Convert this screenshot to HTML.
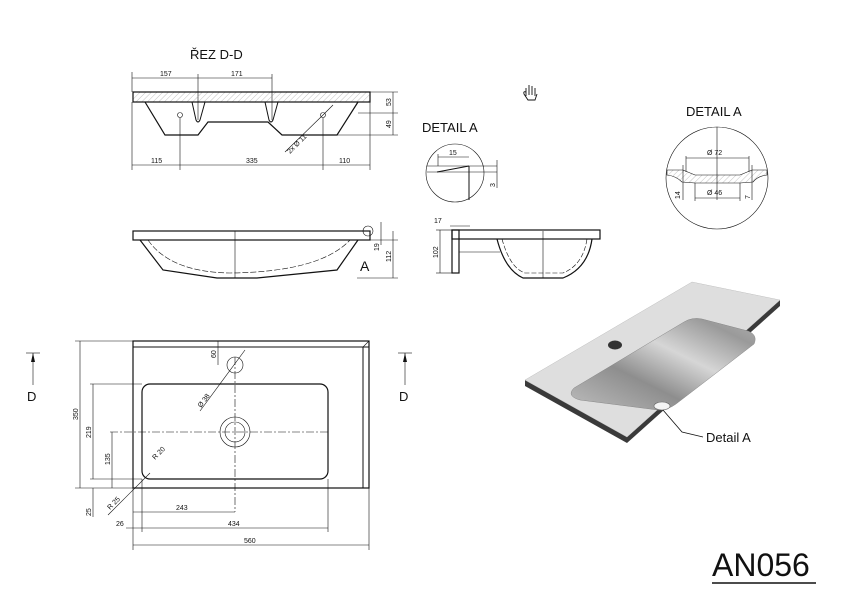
<!DOCTYPE html>
<html><head><meta charset="utf-8"><style>
html,body{margin:0;padding:0;background:#fff;width:842px;height:610px;overflow:hidden}
svg{display:block}
text{font-family:"Liberation Sans",sans-serif;fill:#111}
.d{font-size:7px}
</style></head><body>
<svg width="842" height="610" viewBox="0 0 842 610" xmlns="http://www.w3.org/2000/svg">
<defs>
<linearGradient id="bw" x1="0" y1="1" x2="1" y2="0">
<stop offset="0" stop-color="#bdbdbd"/><stop offset="0.35" stop-color="#8e8e8e"/><stop offset="0.6" stop-color="#d6d6d6"/><stop offset="0.85" stop-color="#9a9a9a"/><stop offset="1" stop-color="#b0b0b0"/></linearGradient>
<pattern id="h" width="4" height="4" patternUnits="userSpaceOnUse" patternTransform="rotate(45)"><line x1="0" y1="0" x2="0" y2="4" stroke="#999" stroke-width="0.6"/></pattern>
</defs>
<g fill="none" stroke="#111" stroke-width="0.6">
<text x="190" y="59" font-size="13" stroke="none">ŘEZ D-D</text>
<line x1="132" y1="78" x2="272" y2="78"/>
<line x1="132" y1="72" x2="132" y2="92"/><line x1="198" y1="74" x2="198" y2="120"/><line x1="272" y1="74" x2="272" y2="120"/>
<rect x="133" y="92" width="237" height="10" fill="url(#h)" stroke-width="1.2"/>
<path d="M145 102 L165 135 L198 135 L208 122 L268 122 L282 135 L337 135 L358 102" stroke-width="1.2"/>
<path d="M192 102 L196 120 Q198 124 200 120 L205 102 M265 102 L269 120 Q271 124 273 120 L278 102" stroke-width="1"/>
<circle cx="180" cy="115" r="2.5"/><circle cx="323" cy="115" r="2.5"/>
<line x1="323" y1="115" x2="285" y2="152"/><line x1="323" y1="115" x2="333" y2="105"/>
<text x="0" y="0" class="d" stroke="none" transform="translate(290 154) rotate(-45)">2x Ø 11</text>
<line x1="370" y1="92" x2="398" y2="92"/><line x1="358" y1="113" x2="398" y2="113"/><line x1="337" y1="135" x2="398" y2="135"/>
<line x1="393" y1="92" x2="393" y2="135"/>
<text class="d" stroke="none" transform="translate(391 106) rotate(-90)">53</text>
<text class="d" stroke="none" transform="translate(391 128) rotate(-90)">49</text>
<line x1="132" y1="102" x2="132" y2="170"/><line x1="180" y1="118" x2="180" y2="170"/><line x1="323" y1="118" x2="323" y2="170"/><line x1="370" y1="102" x2="370" y2="170"/>
<line x1="132" y1="165" x2="370" y2="165"/>
<text x="160" y="76" class="d" stroke="none">157</text><text x="231" y="76" class="d" stroke="none">171</text>
<text x="151" y="163" class="d" stroke="none">115</text><text x="246" y="163" class="d" stroke="none">335</text><text x="339" y="163" class="d" stroke="none">110</text>
<rect x="133" y="231" width="237" height="9" stroke-width="1.2"/>
<path d="M140 240 L163 270 L217 278 L257 278 L337 270 L358 240" stroke-width="1.2"/>
<path d="M148 240 Q170 272 230 273 Q320 272 350 240" stroke-dasharray="6 2"/>
<line x1="235" y1="231" x2="235" y2="278"/>
<circle cx="368" cy="231" r="5"/>
<text x="360" y="271" font-size="14" stroke="none">A</text>
<line x1="381" y1="222" x2="381" y2="245"/><line x1="393" y1="231" x2="393" y2="278"/>
<line x1="370" y1="240" x2="398" y2="240"/><line x1="357" y1="278" x2="398" y2="278"/>
<text class="d" stroke="none" transform="translate(379 251) rotate(-90)">19</text>
<text class="d" stroke="none" transform="translate(391 262) rotate(-90)">112</text>
<path d="M526 96 L526 88 M529 95 L529 85 M532 95 L532 86 M535 96 L535 88 M526 92 Q523 91 524 94 L528 100 L535 100 L537 94" stroke-width="0.9"/>
<text x="422" y="132" font-size="13" stroke="none">DETAIL A</text>
<circle cx="455" cy="173" r="29"/>
<line x1="427" y1="166" x2="497" y2="166"/><line x1="427" y1="172" x2="497" y2="172"/>
<path d="M437 172 L469 166" stroke-width="1"/><line x1="469" y1="166" x2="469" y2="200" stroke-width="1"/>
<line x1="438" y1="157" x2="469" y2="157"/><line x1="438" y1="154" x2="438" y2="166"/>
<line x1="497" y1="160" x2="497" y2="188"/>
<text x="449" y="155" class="d" stroke="none">15</text>
<text class="d" stroke="none" transform="translate(495 187) rotate(-90)">3</text>
<rect x="452" y="230" width="148" height="9" stroke-width="1.2"/>
<rect x="452" y="230" width="7" height="43" stroke-width="1.2"/>
<line x1="459" y1="252" x2="500" y2="252"/>
<path d="M497 239 Q505 270 523 278 L563 278 Q588 268 592 239" stroke-width="1.2"/>
<path d="M502 239 Q510 268 525 273 L563 273 Q583 265 587 239" stroke-dasharray="5 2"/>
<line x1="543" y1="231" x2="543" y2="278"/>
<line x1="440" y1="230" x2="440" y2="273"/><line x1="436" y1="230" x2="452" y2="230"/><line x1="436" y1="273" x2="452" y2="273"/>
<line x1="450" y1="226" x2="470" y2="226"/>
<text x="434" y="223" class="d" stroke="none">17</text>
<text class="d" stroke="none" transform="translate(438 258) rotate(-90)">102</text>
<text x="686" y="116" font-size="13" stroke="none">DETAIL A</text>
<circle cx="717" cy="178" r="51"/>
<path d="M667 170 L683 170 L695 175 L740 175 L752 170 L767 170 L767 175 Q758 176 753 182 L740 183 L695 183 L682 182 Q676 176 667 175 Z" fill="url(#h)"/>
<line x1="717" y1="127" x2="717" y2="200"/>
<line x1="686" y1="158" x2="749" y2="158"/><line x1="686" y1="156" x2="686" y2="172"/><line x1="749" y1="156" x2="749" y2="172"/>
<line x1="695" y1="198" x2="740" y2="198"/><line x1="695" y1="183" x2="695" y2="201"/><line x1="740" y1="183" x2="740" y2="201"/>
<line x1="683" y1="165" x2="683" y2="200"/><line x1="752" y1="165" x2="752" y2="200"/>
<text x="707" y="155" class="d" stroke="none">Ø 72</text><text x="707" y="195" class="d" stroke="none">Ø 46</text>
<text class="d" stroke="none" transform="translate(680 199) rotate(-90)">14</text>
<text class="d" stroke="none" transform="translate(750 199) rotate(-90)">7</text>
<rect x="133" y="341" width="236" height="147" stroke-width="1.2"/>
<line x1="133" y1="347" x2="369" y2="347" stroke-width="1"/><line x1="363" y1="347" x2="363" y2="488" stroke-width="1"/>
<line x1="363" y1="347" x2="369" y2="341"/>
<line x1="218" y1="341" x2="218" y2="347"/>
<rect x="142" y="384" width="186" height="95" rx="8" stroke-width="1.2"/>
<circle cx="235" cy="432" r="15"/><circle cx="235" cy="432" r="10"/>
<circle cx="235" cy="365" r="8"/>
<line x1="235" y1="357" x2="235" y2="512" stroke-dasharray="8 2 2 2"/>
<line x1="110" y1="432" x2="330" y2="432" stroke-dasharray="8 2 2 2"/>
<line x1="245" y1="350" x2="200" y2="411"/>
<text class="d" stroke="none" transform="translate(201 408) rotate(-53)">Ø 38</text>
<line x1="218" y1="347" x2="218" y2="365"/>
<text class="d" stroke="none" transform="translate(216 358) rotate(-90)">60</text>
<line x1="150" y1="473" x2="108" y2="515"/>
<text class="d" stroke="none" transform="translate(155 460) rotate(-45)">R 20</text>
<text class="d" stroke="none" transform="translate(110 510) rotate(-45)">R 25</text>
<line x1="75" y1="341" x2="133" y2="341"/><line x1="75" y1="488" x2="133" y2="488"/>
<line x1="90" y1="384" x2="142" y2="384"/><line x1="90" y1="479" x2="142" y2="479"/>
<line x1="80" y1="341" x2="80" y2="488"/><line x1="93" y1="384" x2="93" y2="479"/><line x1="112" y1="432" x2="112" y2="488"/>
<line x1="93" y1="488" x2="93" y2="517"/>
<text class="d" stroke="none" transform="translate(78 420) rotate(-90)">350</text>
<text class="d" stroke="none" transform="translate(91 438) rotate(-90)">219</text>
<text class="d" stroke="none" transform="translate(110 465) rotate(-90)">135</text>
<text class="d" stroke="none" transform="translate(91 516) rotate(-90)">25</text>
<line x1="133" y1="488" x2="133" y2="550"/><line x1="142" y1="479" x2="142" y2="532"/><line x1="328" y1="479" x2="328" y2="532"/><line x1="369" y1="488" x2="369" y2="550"/>
<line x1="133" y1="512" x2="235" y2="512"/><line x1="126" y1="528" x2="328" y2="528"/><line x1="133" y1="545" x2="369" y2="545"/>
<text x="176" y="510" class="d" stroke="none">243</text><text x="228" y="526" class="d" stroke="none">434</text>
<text x="116" y="526" class="d" stroke="none">26</text><text x="244" y="543" class="d" stroke="none">560</text>
<line x1="26" y1="353" x2="40" y2="353"/><line x1="33" y1="353" x2="33" y2="385"/>
<line x1="398" y1="353" x2="412" y2="353"/><line x1="405" y1="353" x2="405" y2="385"/>
</g>
<path d="M33 353 L31 362 L35 362 Z M405 353 L403 362 L407 362 Z" fill="#111"/>
<text x="27" y="401" font-size="13">D</text><text x="399" y="401" font-size="13">D</text>
<!-- 3D render -->
<path d="M525 380 L692 282 L780 300 L780 306 L627 443 L525 386 Z" fill="#3a3a3a"/>
<path d="M525 380 L692 282 L780 300 L627 437 Z" fill="#dedede" stroke="#c8c8c8" stroke-width="0.5"/>
<path d="M574 388 L684 322 Q692 317 702 319 L748 331 Q758 335 754 344 L676 404 Q668 410 658 410 L580 400 Q566 396 574 388 Z" fill="url(#bw)" stroke="#888" stroke-width="0.5"/>
<ellipse cx="615" cy="345" rx="7" ry="4.5" fill="#333"/>
<ellipse cx="662" cy="406" rx="8" ry="4" fill="#f4f4f4" stroke="#666" stroke-width="0.6"/>
<polyline points="663,410 682,432 703,437" fill="none" stroke="#111" stroke-width="0.8"/>
<text x="706" y="442" font-size="13">Detail A</text>
<text x="712" y="576" font-size="32">AN056</text>
<line x1="712" y1="583" x2="816" y2="583" stroke="#111" stroke-width="1.5"/>
</svg>
</body></html>
